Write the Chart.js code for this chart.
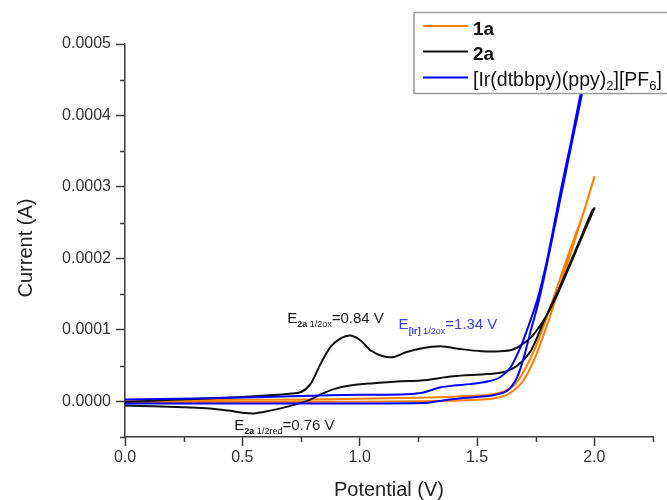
<!DOCTYPE html>
<html>
<head>
<meta charset="utf-8">
<title>Cyclic voltammetry</title>
<script src="https://cdn.jsdelivr.net/npm/chart.js@4.4.1/dist/chart.umd.min.js"></script>
<style>
  html, body { margin: 0; padding: 0; background: #ffffff; }
  #wrap { width: 667px; height: 500px; }
</style>
</head>
<body>
<div id="wrap"><canvas id="cv" width="667" height="500"></canvas></div>
<script>
// --- Data (potential in V, current in A) ---
// each curve is one closed scan: 0 V -> 2.0 V -> 0 V

const potential1a = [
  0, 0.25, 0.5, 0.75, 1.0, 1.25, 1.4, 1.5, 1.57, 1.62, 1.66, 1.70, 1.75, 1.80, 1.85, 1.90, 1.95, 2.0,
  1.96, 1.90, 1.85, 1.80, 1.75, 1.70, 1.66, 1.62, 1.57, 1.50, 1.40, 1.25, 1.0, 0.75, 0.5, 0.25, 0
];
const current1a = [
  -1.5e-6, -1.2e-6, -1.0e-6, -0.8e-6, -0.5e-6, 0, 0.8e-6, 2.0e-6, 4.0e-6, 8.0e-6, 1.6e-5, 3.0e-5, 6.3e-5, 1.08e-4, 1.58e-4, 2.08e-4, 2.60e-4, 3.14e-4,
  2.70e-4, 2.15e-4, 1.68e-4, 1.20e-4, 7.6e-5, 4.2e-5, 2.3e-5, 1.45e-5, 1.0e-5, 8.0e-6, 6.5e-6, 5.0e-6, 3.5e-6, 2.5e-6, 2.0e-6, 1.5e-6, 1.0e-6
];

const potential2a = [
  0, 0.2, 0.4, 0.6, 0.7, 0.75, 0.79, 0.833, 0.876, 0.919, 0.96, 1.004, 1.047, 1.10, 1.146, 1.20, 1.26, 1.345, 1.43, 1.52, 1.60, 1.65, 1.69, 1.74, 1.80, 1.85, 1.90, 1.95, 2.0,
  1.99, 1.95, 1.90, 1.85, 1.786, 1.73, 1.672, 1.615, 1.544, 1.40, 1.26, 1.175, 1.05, 0.96, 0.89, 0.83, 0.78, 0.72, 0.65, 0.59, 0.55, 0.50, 0.44, 0.36, 0.25, 0.12, 0
];
const current2a = [
  -1.0e-6, 2.0e-6, 4.5e-6, 8.0e-6, 1.05e-5, 1.3e-5, 2.4e-5, 5.2e-5, 7.6e-5, 8.8e-5, 9.2e-5, 8.5e-5, 7.1e-5, 6.3e-5, 6.2e-5, 6.9e-5, 7.4e-5, 7.7e-5, 7.3e-5, 7.0e-5, 7.0e-5, 7.2e-5, 7.9e-5, 9.3e-5, 1.22e-4, 1.55e-4, 1.93e-4, 2.32e-4, 2.70e-4,
  2.66e-4, 2.35e-4, 1.96e-4, 1.58e-4, 1.13e-4, 7.1e-5, 5.0e-5, 4.1e-5, 3.8e-5, 3.5e-5, 2.9e-5, 2.8e-5, 2.5e-5, 2.2e-5, 1.7e-5, 9.0e-6, 1.0e-6, -5.0e-6, -1.1e-5, -1.5e-5, -1.7e-5, -1.6e-5, -1.3e-5, -1.0e-5, -8.5e-6, -7.0e-6, -6.0e-6
];

const potentialIr = [
  0, 0.3, 0.6, 0.75, 1.0, 1.2, 1.26, 1.30, 1.345, 1.40, 1.47, 1.55, 1.60, 1.644, 1.686, 1.72, 1.757, 1.80, 1.857, 1.90, 1.94, 2.0,
  1.95, 1.90, 1.85, 1.80, 1.76, 1.73, 1.70, 1.67, 1.63, 1.57, 1.46, 1.36, 1.29, 1.0, 0.5, 0
];
const currentIr = [
  2.5e-6, 4.0e-6, 6.0e-6, 7.5e-6, 9.0e-6, 1.0e-5, 1.15e-5, 1.5e-5, 1.95e-5, 2.2e-5, 2.4e-5, 2.8e-5, 3.4e-5, 4.8e-5, 7.6e-5, 1.06e-4, 1.42e-4, 2.0e-4, 2.95e-4, 3.62e-4, 4.28e-4, 5.25e-4,
  4.35e-4, 3.55e-4, 2.75e-4, 1.95e-4, 1.36e-4, 1.0e-4, 6.2e-5, 3.3e-5, 1.5e-5, 8.5e-6, 5.0e-6, 1.5e-6, -2.0e-6, -3.0e-6, -3.0e-6, -3.0e-6
];

const seriesNames = ['1a', '2a', '[Ir(dtbbpy)(ppy)2][PF6]'];

// --- Look ---
const FONT = 'Arial, "Liberation Sans", sans-serif';
const AXIS_COLOR = '#3a3a3a';
const TEXT_COLOR = '#333333';
const COLORS = { '1a': '#ff8000', '2a': '#111111', ir: '#0000ff' };

const toPoints = (xs, ys) => xs.map((v, i) => ({ x: v, y: ys[i] }));

const isMajorX = v => Math.abs(v / 0.5 - Math.round(v / 0.5)) < 1e-6;
const isMajorY = v => Math.abs(v / 1e-4 - Math.round(v / 1e-4)) < 1e-6;

// draw a run of text pieces (for subscripts), returns end x
function drawRich(ctx, x, y, parts, color) {
  parts.forEach(p => {
    ctx.font = (p.bold ? 'bold ' : '') + p.size + 'px ' + FONT;
    ctx.fillStyle = color;
    ctx.textAlign = 'left';
    ctx.textBaseline = 'alphabetic';
    ctx.fillText(p.t, x, y + (p.dy || 0));
    x += ctx.measureText(p.t).width;
  });
  return x;
}

// peak labels, anchored in data coordinates (left edge / baseline)
const peakLabels = [
  { v: 0.691, i: 1.10e-4, color: '#1a1a1a', parts: [
    { t: 'E', size: 15 }, { t: '2a', size: 9, bold: true, dy: 4.5 }, { t: ' 1/2ox', size: 9, dy: 4.5 }, { t: '=0.84 V', size: 15 } ] },
  { v: 1.166, i: 1.005e-4, color: '#3b3bf2', parts: [
    { t: 'E', size: 15 }, { t: '[Ir]', size: 9, bold: true, dy: 4.5 }, { t: ' 1/2ox', size: 9, dy: 4.5 }, { t: '=1.34 V', size: 15 } ] },
  { v: 0.466, i: -3.97e-5, color: '#1a1a1a', parts: [
    { t: 'E', size: 15 }, { t: '2a', size: 9, bold: true, dy: 4.5 }, { t: ' 1/2red', size: 9, dy: 4.5 }, { t: '=0.76 V', size: 15 } ] }
];

const overlay = {
  id: 'overlay',
  afterDraw(chart) {
    const ctx = chart.ctx;
    const xs = chart.scales.x, ys = chart.scales.y;
    ctx.save();

    // minor ticks (shorter than the major ones)
    ctx.strokeStyle = AXIS_COLOR;
    ctx.lineWidth = 1.5;
    ctx.beginPath();
    xs.ticks.forEach(t => {
      if (isMajorX(t.value)) return;
      const px = Math.round(xs.getPixelForValue(t.value)) + 0.5;
      ctx.moveTo(px, xs.top);
      ctx.lineTo(px, xs.top + 5);
    });
    ys.ticks.forEach(t => {
      if (isMajorY(t.value)) return;
      const py = Math.round(ys.getPixelForValue(t.value)) + 0.5;
      ctx.moveTo(ys.right, py);
      ctx.lineTo(ys.right - 5, py);
    });
    ctx.stroke();

    // peak labels
    peakLabels.forEach(l => {
      drawRich(ctx, xs.getPixelForValue(l.v), ys.getPixelForValue(l.i), l.parts, l.color);
    });

    // axis titles
    ctx.fillStyle = '#222';
    ctx.font = '20px ' + FONT;
    ctx.textAlign = 'center';
    ctx.textBaseline = 'alphabetic';
    ctx.fillText('Potential (V)', (xs.left + xs.right) / 2, 496);
    ctx.save();
    ctx.translate(32, 248);
    ctx.rotate(-Math.PI / 2);
    ctx.fillText('Current (A)', 0, 0);
    ctx.restore();

    // legend box (opaque, runs off the right edge)
    ctx.fillStyle = '#ffffff';
    ctx.fillRect(414, 12.5, 270, 81);
    ctx.strokeStyle = '#9a9a9a';
    ctx.lineWidth = 1.5;
    ctx.strokeRect(414, 12.5, 270, 81);

    const rows = [
      { color: COLORS['1a'], y: 26, base: 34.5, parts: [{ t: seriesNames[0], size: 19, bold: true }] },
      { color: COLORS['2a'], y: 51.5, base: 60, parts: [{ t: seriesNames[1], size: 19, bold: true }] },
      { color: COLORS.ir, y: 77.5, base: 85.5, parts: [
        { t: '[Ir(dtbbpy)(ppy)', size: 19.5 }, { t: '2', size: 13, dy: 4 },
        { t: '][PF', size: 19.5 }, { t: '6', size: 13, dy: 4 }, { t: ']', size: 19.5 } ] }
    ];
    rows.forEach(r => {
      ctx.strokeStyle = r.color;
      ctx.lineWidth = 2;
      ctx.beginPath();
      ctx.moveTo(423, r.y);
      ctx.lineTo(468, r.y);
      ctx.stroke();
      drawRich(ctx, 473, r.base, r.parts, '#111');
    });

    ctx.restore();
  }
};

const lineStyle = color => ({
  borderColor: color,
  backgroundColor: color,
  borderWidth: 2,
  showLine: true,
  pointRadius: 0,
  tension: 0.3,
  fill: false
});

new Chart(document.getElementById('cv'), {
  type: 'scatter',
  data: {
    datasets: [
      Object.assign({ label: seriesNames[2], data: toPoints(potentialIr, currentIr), order: 0 }, lineStyle(COLORS.ir)),
      Object.assign({ label: seriesNames[1], data: toPoints(potential2a, current2a), order: 1 }, lineStyle(COLORS['2a'])),
      Object.assign({ label: seriesNames[0], data: toPoints(potential1a, current1a), order: 2 }, lineStyle(COLORS['1a']))
    ]
  },
  options: {
    responsive: false,
    animation: false,
    devicePixelRatio: 1,
    layout: { padding: { left: 0, top: 44, right: 14, bottom: 0 } },
    plugins: { legend: { display: false }, tooltip: { enabled: false } },
    scales: {
      x: {
        type: 'linear',
        min: 0,
        max: 2.25,
        ticks: {
          stepSize: 0.25,
          autoSkip: false,
          maxRotation: 0,
          padding: 2,
          color: TEXT_COLOR,
          font: { family: FONT, size: 16 },
          callback: v => isMajorX(v) ? v.toFixed(1) : ''
        },
        grid: {
          drawOnChartArea: false,
          drawTicks: true,
          tickLength: 9,
          tickWidth: 1.5,
          tickColor: c => (c.tick && isMajorX(c.tick.value)) ? AXIS_COLOR : 'rgba(0,0,0,0)'
        },
        border: { display: true, color: AXIS_COLOR, width: 1.5 },
        afterFit: s => { s.height = 63; }
      },
      y: {
        type: 'linear',
        min: -0.00005,
        max: 0.0005,
        ticks: {
          stepSize: 0.00005,
          autoSkip: false,
          padding: 5,
          color: TEXT_COLOR,
          font: { family: FONT, size: 16 },
          callback: v => isMajorY(v) ? (Math.abs(v) < 1e-12 ? 0 : v).toFixed(4) : ''
        },
        grid: {
          drawOnChartArea: false,
          drawTicks: true,
          tickLength: 9,
          tickWidth: 1.5,
          tickColor: c => (c.tick && isMajorY(c.tick.value)) ? AXIS_COLOR : 'rgba(0,0,0,0)'
        },
        border: { display: true, color: AXIS_COLOR, width: 1.5 },
        afterFit: s => { s.width = 125; }
      }
    }
  },
  plugins: [overlay]
});
</script>
</body>
</html>
